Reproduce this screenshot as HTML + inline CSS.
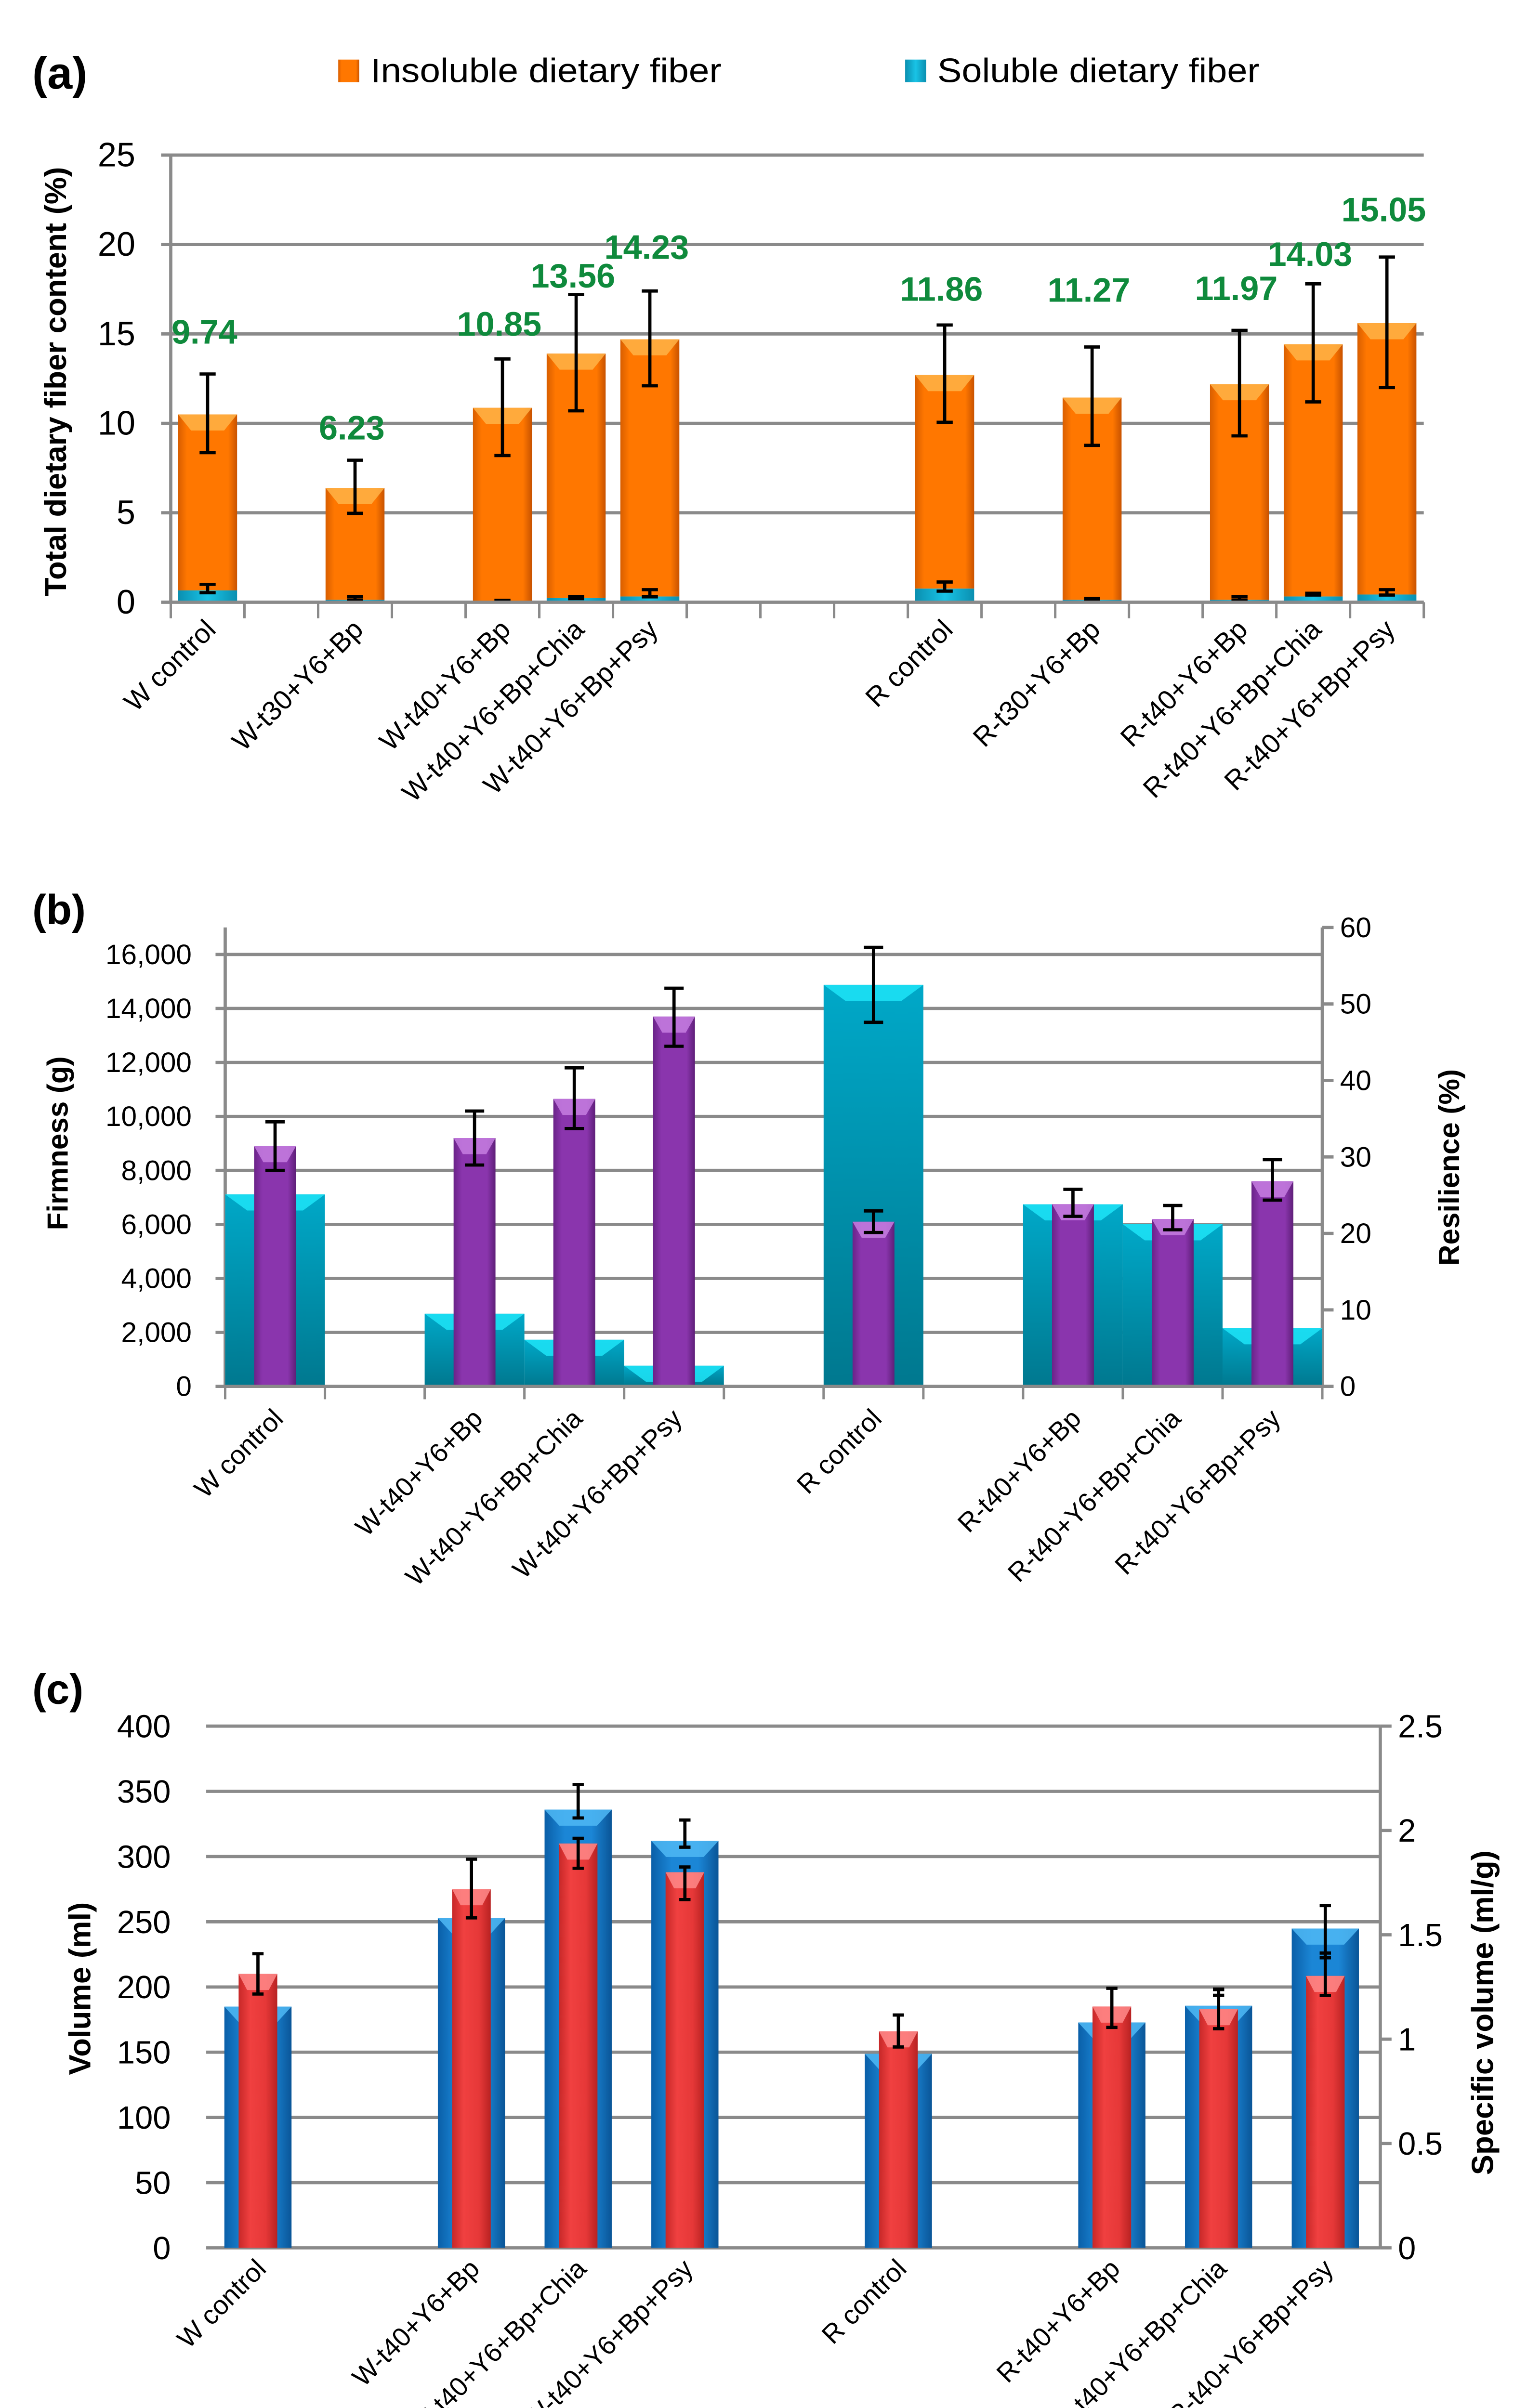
<!DOCTYPE html>
<html><head><meta charset="utf-8"><style>
html,body{margin:0;padding:0;background:#fff;width:3143px;height:5191px;overflow:hidden}
svg{display:block}
.n{font-family:"Liberation Sans Narrow","Liberation Sans",sans-serif}
.s{font-family:"Liberation Sans",sans-serif}
</style></head><body>
<svg id="fig" xmlns="http://www.w3.org/2000/svg" width="3143" height="5191" viewBox="0 0 940 1552.6" overflow="hidden">
<defs>
<linearGradient id="gOr" x1="0" x2="1" y1="0" y2="0"><stop offset="0" stop-color="#d85e00"/><stop offset="0.15" stop-color="#ff7700"/><stop offset="0.85" stop-color="#ff7700"/><stop offset="1" stop-color="#c85200"/></linearGradient>
<linearGradient id="gCy" x1="0" x2="1"><stop offset="0" stop-color="#0a8fb0"/><stop offset="0.5" stop-color="#19c3e6"/><stop offset="1" stop-color="#0a8fb0"/></linearGradient>
<linearGradient id="gTe" x1="0" x2="0" y1="0" y2="1"><stop offset="0" stop-color="#00a8c8"/><stop offset="1" stop-color="#00788f"/></linearGradient>
<linearGradient id="gPu" x1="0" x2="1"><stop offset="0" stop-color="#6a2388"/><stop offset="0.2" stop-color="#8a35ad"/><stop offset="0.8" stop-color="#8a35ad"/><stop offset="1" stop-color="#5e1f78"/></linearGradient>
<linearGradient id="gBl" x1="0" x2="1"><stop offset="0" stop-color="#0a5fa8"/><stop offset="0.3" stop-color="#1b86d6"/><stop offset="0.7" stop-color="#1b86d6"/><stop offset="1" stop-color="#0a5597"/></linearGradient>
<linearGradient id="gRe" x1="0" x2="1"><stop offset="0" stop-color="#c72828"/><stop offset="0.3" stop-color="#f04040"/><stop offset="0.7" stop-color="#e63838"/><stop offset="1" stop-color="#b82222"/></linearGradient>
</defs>
<g id="pa"></g>
<g id="pb"></g>
<g id="pc"></g>
</svg>
<script>
// ---------- Panel (a) data ----------
const aCats = ["W control","","W-t30+Y6+Bp","","W-t40+Y6+Bp","W-t40+Y6+Bp+Chia","W-t40+Y6+Bp+Psy","","","","R control","","R-t30+Y6+Bp","","R-t40+Y6+Bp","R-t40+Y6+Bp+Chia","R-t40+Y6+Bp+Psy"];
const aTotal = [10.5,null,6.39,null,10.87,13.9,14.7,null,null,null,12.7,null,11.44,null,12.19,14.42,15.6];
const aSoluble = [0.66,null,0.13,null,0.05,0.23,0.32,null,null,null,0.76,null,0.13,null,0.13,0.32,0.43];
const aErrLow = [8.36,null,4.97,null,8.2,10.7,12.1,null,null,null,10.06,null,8.77,null,9.3,11.2,12.0];
const aErrHigh = [12.76,null,7.94,null,13.6,17.2,17.4,null,null,null,15.5,null,14.27,null,15.2,17.8,19.3];
const aSolLow = [0.53,null,0.1,null,0.02,0.2,0.3,null,null,null,0.62,null,0.1,null,0.1,0.4,0.4];
const aSolHigh = [1.0,null,0.3,null,0.1,0.3,0.7,null,null,null,1.13,null,0.2,null,0.3,0.5,0.7];
const aLabels = ["9.74",null,"6.23",null,"10.85","13.56","14.23",null,null,null,"11.86",null,"11.27",null,"11.97","14.03","15.05"];
const aLabelAt = [14.46,null,9.1,null,14.9,17.6,19.2,null,null,null,16.85,null,16.8,null,16.9,18.8,21.3];
const aTicks = [0,5,10,15,20,25];

// ---------- Panel (b) data ----------
const bCats = ["W control","","W-t40+Y6+Bp","W-t40+Y6+Bp+Chia","W-t40+Y6+Bp+Psy","","R control","","R-t40+Y6+Bp","R-t40+Y6+Bp+Chia","R-t40+Y6+Bp+Psy"];
const bFirm = [8900,null,9200,10650,13700,null,6100,null,6750,6200,7600];
const bFirmLo = [8000,null,8200,9550,12600,null,5700,null,6300,5800,6900];
const bFirmHi = [9800,null,10200,11800,14750,null,6500,null,7300,6700,8400];
const bRes = [25.1,null,9.5,6.1,2.7,null,52.5,null,23.8,21.2,7.6];
const bResLo = [null,null,null,null,null,null,47.6,null,null,null,null];
const bResHi = [null,null,null,null,null,null,57.4,null,null,null,null];
const bLeftTicks = [0,2000,4000,6000,8000,10000,12000,14000,16000];
const bRightTicks = [0,10,20,30,40,50,60];

// ---------- Panel (c) data ----------
const cCats = ["W control","","W-t40+Y6+Bp","W-t40+Y6+Bp+Chia","W-t40+Y6+Bp+Psy","","R control","","R-t40+Y6+Bp","R-t40+Y6+Bp+Chia","R-t40+Y6+Bp+Psy"];
const cVol = [210,null,275,310,288,null,166,null,185,183,208.5];
const cVolLo = [194.6,null,253,291,267,null,154,null,169,168,193.5];
const cVolHi = [225.5,null,298,314,292,null,178.5,null,199,198,226];
const cSpec = [1.156,null,1.58,2.10,1.95,null,0.93,null,1.08,1.16,1.53];
const cSpecLo = [null,null,null,2.06,1.92,null,null,null,null,1.21,1.39];
const cSpecHi = [null,null,null,2.22,2.05,null,null,null,null,1.24,1.64];
const cLeftTicks = [0,50,100,150,200,250,300,350,400];
const cRightTicks = [0,0.5,1,1.5,2,2.5];

const NS="http://www.w3.org/2000/svg";
function mk(parent,tag,attrs,txt){const e=document.createElementNS(NS,tag);for(const k in attrs)e.setAttribute(k,attrs[k]);if(txt!=null)e.textContent=txt;parent.appendChild(e);return e;}
function errBar(g,x,y1,y2,w){
  const e=mk(g,'path',{d:`M${x},${y1}V${y2}M${x-w},${y1}H${x+w}M${x-w},${y2}H${x+w}`,stroke:'#000','stroke-width':2,fill:'none'});
  
  
}
function bar(g,x,y,w,h,fill,topc,name){
  const r=mk(g,'rect',{x:x,y:y,width:w,height:Math.max(h,0),fill:fill});
  
  
  if(topc&&h>4){const t=mk(g,'path',{d:`M${x},${y}H${x+w}L${x+w-w*0.22},${y+Math.min(10,h)}H${x+w*0.22}Z`,fill:topc,opacity:0.85});
    
    }
}
function xlabels(g,cats,cx,y,cls,size){
  cats.forEach((c,i)=>{if(!c)return;const x=cx(i)+6;
    const t=mk(g,'text',{x:x,y:y,'text-anchor':'end',transform:`rotate(-45 ${x} ${y})`,'font-size':size,class:cls,fill:'#000'},c);
    
    });
}

// ===== Panel A =====
(function(){
const g=document.getElementById('pa');
const L=106,R=884,y0=374,yT=96.3,n=aCats.length,sw=(R-L)/n;
const y=v=>y0-(v/25)*(y0-yT), cx=i=>L+sw*(i+0.5);
let t=mk(g,'text',{x:20,y:55,'font-size':28,'font-weight':'bold',class:'n'},'(a)');

let lg=mk(g,'g',{});
let r=mk(lg,'rect',{x:210,y:37,width:13,height:14,fill:'url(#gOr)'});
t=mk(lg,'text',{x:230,y:51,'font-size':21,class:'n',textLength:218,lengthAdjust:'spacingAndGlyphs'},'Insoluble dietary fiber');
r=mk(lg,'rect',{x:562,y:37,width:13,height:14,fill:'url(#gCy)'});
t=mk(lg,'text',{x:582,y:51,'font-size':21,class:'n',textLength:200,lengthAdjust:'spacingAndGlyphs'},'Soluble dietary fiber');
aTicks.forEach(v=>{
  const l=mk(g,'line',{x1:L-6,x2:R,y1:y(v),y2:y(v),stroke:'#8a8a8a','stroke-width':2});
  
  const tx=mk(g,'text',{x:84,y:y(v)+7,'text-anchor':'end','font-size':21,class:'n'},String(v));
  
});
let ax=mk(g,'line',{x1:L,x2:L,y1:yT,y2:y0,stroke:'#8a8a8a','stroke-width':2});
for(let i=0;i<=n;i++){const l=mk(g,'line',{x1:L+sw*i,x2:L+sw*i,y1:y0,y2:y0+10,stroke:'#8a8a8a','stroke-width':1.5});}
t=mk(g,'text',{x:0,y:0,transform:'translate(41 237) rotate(-90)','text-anchor':'middle','font-size':19,'font-weight':'bold',class:'s'},'Total dietary fiber content (%)');

const bw=sw*0.8;
aCats.forEach((c,i)=>{if(aTotal[i]==null)return;const x=cx(i)-bw/2;
  bar(g,x,y(aTotal[i]),bw,y(aSoluble[i])-y(aTotal[i]),'url(#gOr)','#ffb347','bar-insoluble');
  bar(g,x,y(aSoluble[i]),bw,y0-y(aSoluble[i]),'url(#gCy)',null,'bar-soluble');
  errBar(g,cx(i),y(aErrHigh[i]),y(aErrLow[i]),5);
  errBar(g,cx(i),y(aSolHigh[i]),y(aSolLow[i]),5);
  const lb=mk(g,'text',{x:cx(i)-2,y:y(aLabelAt[i]),'text-anchor':'middle','font-size':21,'font-weight':'bold',fill:'#0f8a3c',class:'n'},aLabels[i]);
  
});
let bl=mk(g,'line',{x1:L-6,x2:R,y1:y0,y2:y0,stroke:'#8a8a8a','stroke-width':2});
xlabels(g,aCats,cx,392,'s',17);
})();

// ===== Panel B =====
(function(){
const g=document.getElementById('pb');
const L=139.8,R=821,y0=861,yT=576,n=bCats.length,sw=(R-L)/n;
const yl=v=>y0-(v/17000)*(y0-yT), yr=v=>y0-(v/60)*(y0-yT), cx=i=>L+sw*(i+0.5);
let t=mk(g,'text',{x:20,y:574,'font-size':26,'font-weight':'bold',class:'s'},'(b)');

bLeftTicks.forEach(v=>{
  if(v>0){const l=mk(g,'line',{x1:L-6,x2:R,y1:yl(v),y2:yl(v),stroke:'#8a8a8a','stroke-width':2});}
  const tx=mk(g,'text',{x:119,y:yl(v)+6,'text-anchor':'end','font-size':17.5,class:'s'},v.toLocaleString('en-US'));
  
});
bRightTicks.forEach(v=>{
  const l=mk(g,'line',{x1:R,x2:R+7,y1:yr(v),y2:yr(v),stroke:'#8a8a8a','stroke-width':2});
  const tx=mk(g,'text',{x:832,y:yr(v)+6,'font-size':17.5,class:'s'},String(v));
  
});
let ax=mk(g,'line',{x1:L,x2:L,y1:yT,y2:y0,stroke:'#8a8a8a','stroke-width':2});
ax=mk(g,'line',{x1:R,x2:R,y1:yT,y2:y0,stroke:'#8a8a8a','stroke-width':2});
for(let i=0;i<=n;i++){const l=mk(g,'line',{x1:L+sw*i,x2:L+sw*i,y1:y0,y2:y0+8,stroke:'#8a8a8a','stroke-width':1.5});}
t=mk(g,'text',{x:0,y:0,transform:'translate(42 710) rotate(-90)','text-anchor':'middle','font-size':18,'font-weight':'bold',class:'s'},'Firmness (g)');

t=mk(g,'text',{x:0,y:0,transform:'translate(906 725) rotate(-90)','text-anchor':'middle','font-size':18,'font-weight':'bold',class:'s'},'Resilience (%)');

bCats.forEach((c,i)=>{if(bRes[i]==null)return;
  bar(g,cx(i)-sw/2,yr(bRes[i]),sw,y0-yr(bRes[i]),'url(#gTe)','#1de4f7','bar-resilience');});
bCats.forEach((c,i)=>{if(bRes[i]==null)return;
  if(bResHi[i]!=null)errBar(g,cx(i),yr(bResHi[i]),yr(bResLo[i]),6);
  const w=26;bar(g,cx(i)-w/2,yl(bFirm[i]),w,y0-yl(bFirm[i]),'url(#gPu)','#c57ee0','bar-firmness');
  errBar(g,cx(i),yl(bFirmHi[i]),yl(bFirmLo[i]),6);});
let bl=mk(g,'line',{x1:L-6,x2:R+7,y1:y0,y2:y0,stroke:'#8a8a8a','stroke-width':2});
xlabels(g,bCats,cx,882,'s',16.5);
})();

// ===== Panel C =====
(function(){
const g=document.getElementById('pc');
const L=128,R=857,y0=1396,yT=1072,n=cCats.length,sw=(R-128)/n;
const yl=v=>y0-(v/400)*(y0-yT), yr=v=>y0-(v/2.5)*(y0-yT), cx=i=>127+sw*(i+0.5);
let t=mk(g,'text',{x:20,y:1058,'font-size':26,'font-weight':'bold',class:'s'},'(c)');

cLeftTicks.forEach(v=>{
  const l=mk(g,'line',{x1:L,x2:R,y1:yl(v),y2:yl(v),stroke:'#8a8a8a','stroke-width':2});
  const tx=mk(g,'text',{x:106,y:yl(v)+7,'text-anchor':'end','font-size':20,class:'n'},String(v));
  
});
cRightTicks.forEach(v=>{
  const l=mk(g,'line',{x1:R,x2:R+7,y1:yr(v),y2:yr(v),stroke:'#8a8a8a','stroke-width':2});
  const tx=mk(g,'text',{x:868,y:yr(v)+7,'font-size':20,class:'n'},String(v));
  
});
let ax=mk(g,'line',{x1:R,x2:R,y1:yT,y2:y0,stroke:'#8a8a8a','stroke-width':2});
t=mk(g,'text',{x:0,y:0,transform:'translate(56 1235) rotate(-90)','text-anchor':'middle','font-size':19,'font-weight':'bold',class:'s'},'Volume (ml)');

t=mk(g,'text',{x:0,y:0,transform:'translate(927 1250) rotate(-90)','text-anchor':'middle','font-size':19,'font-weight':'bold',class:'s'},'Specific volume (ml/g)');

cCats.forEach((c,i)=>{if(cVol[i]==null)return;
  const bw=41.7;bar(g,cx(i)-bw/2,yr(cSpec[i]),bw,y0-yr(cSpec[i]),'url(#gBl)','#4fb8f5','bar-specific-volume');
  const rw=24;bar(g,cx(i)-rw/2,yl(cVol[i]),rw,y0-yl(cVol[i]),'url(#gRe)','#ff8a8a','bar-volume');
  if(cSpecHi[i]!=null)errBar(g,cx(i),yr(cSpecHi[i]),yr(cSpecLo[i]),3.5);
  errBar(g,cx(i),yl(cVolHi[i]),yl(cVolLo[i]),3.5);});
xlabels(g,cCats,cx,1410,'s',16.5);
})();
</script>
</body></html>
